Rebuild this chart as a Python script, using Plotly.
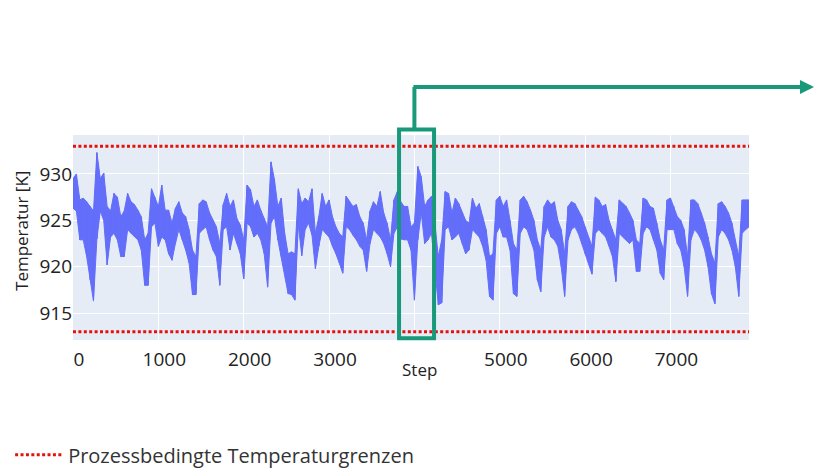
import plotly.graph_objects as go

# ---- data (upper / lower envelope every 40 steps) ----
temp_high = [
    929.5, 930.0, 927.2, 927.4, 927.0, 926.5, 926.0, 932.3, 929.5, 930.1,
    926.5, 926.0, 927.9, 927.5, 925.4, 926.0, 927.9, 927.0, 926.7, 926.1,
    925.4, 922.9, 923.6, 928.4, 927.5, 926.5, 928.8, 926.1, 926.1, 924.7,
    926.3, 927.0, 925.8, 925.4, 924.0, 921.8, 921.1, 926.8, 927.2, 927.0,
    925.8, 925.0, 924.3, 922.5, 926.7, 927.9, 926.5, 927.2, 925.2, 924.5,
    922.9, 928.8, 928.3, 926.5, 927.2, 926.1, 925.2, 924.3, 931.3, 929.4,
    926.5, 927.4, 923.6, 921.4, 921.6, 921.4, 928.4, 926.8, 927.4, 927.0,
    928.4, 923.6, 925.4, 927.9, 926.5, 927.2, 925.4, 924.3, 923.6, 923.2,
    927.6, 927.0, 926.5, 926.7, 925.4, 924.7, 922.9, 926.0, 927.0, 926.5,
    928.1, 925.8, 924.7, 922.9, 927.2, 928.1, 927.0, 926.5, 926.5, 924.3,
    924.7, 930.8, 929.7, 926.5, 927.2, 927.6, 924.7, 921.1, 922.9, 928.1,
    927.9, 925.8, 927.4, 926.8, 925.8, 925.0, 924.7, 927.4, 926.3, 926.8,
    925.4, 924.0, 921.1, 921.4, 927.2, 927.6, 926.5, 927.2, 925.0, 922.5,
    921.8, 927.2, 927.6, 927.0, 926.1, 925.0, 922.9, 921.8, 926.5, 927.2,
    926.7, 927.0, 925.0, 924.0, 921.4, 926.5, 927.0, 926.8, 926.1, 925.4,
    924.3, 923.2, 922.2, 927.5, 927.2, 926.5, 926.7, 925.0, 924.0, 922.9,
    927.2, 926.8, 926.5, 925.8, 925.0, 922.9, 922.5, 927.4, 927.2, 926.5,
    926.3, 924.7, 922.9, 921.8, 927.2, 927.4, 926.5, 925.4, 925.0, 924.0,
    921.1, 927.2, 927.2, 926.8, 925.8, 924.7, 923.2, 921.4, 920.4, 926.8,
    927.0, 926.5, 925.8, 924.7, 922.9, 921.1, 927.2, 927.2, 927.2,
]
temp_low = [
    926.3, 926.0, 922.9, 922.9, 921.1, 918.6, 916.3, 923.0, 926.0, 925.0,
    920.2, 923.2, 923.6, 922.9, 921.1, 921.1, 924.0, 923.6, 923.2, 922.9,
    921.8, 918.0, 918.0, 924.3, 924.7, 922.2, 923.2, 922.9, 921.4, 920.7,
    922.5, 924.0, 922.9, 921.8, 920.4, 917.0, 917.0, 923.6, 924.0, 924.3,
    922.9, 921.8, 921.1, 918.0, 924.0, 924.3, 921.8, 923.6, 922.5, 921.4,
    918.7, 924.7, 924.3, 923.2, 923.6, 922.9, 921.4, 917.8, 924.7, 925.4,
    922.9, 921.1, 919.3, 917.1, 917.0, 916.4, 924.5, 921.2, 924.0, 924.7,
    923.4, 919.8, 922.2, 924.0, 923.6, 923.2, 922.2, 921.4, 920.4, 919.3,
    924.3, 924.0, 923.4, 922.9, 922.2, 921.8, 919.5, 922.5, 924.0, 923.6,
    923.2, 922.5, 921.4, 920.0, 923.6, 924.3, 923.0, 922.9, 922.9, 921.8,
    916.4, 922.9, 925.8, 922.5, 922.9, 923.6, 919.3, 915.9, 916.1, 924.0,
    924.3, 922.9, 923.2, 923.6, 922.5, 921.4, 921.8, 924.0, 923.6, 923.2,
    922.2, 920.7, 916.8, 916.4, 923.6, 924.3, 923.2, 923.2, 921.8, 917.1,
    916.8, 923.6, 924.3, 924.0, 922.9, 921.8, 918.6, 917.3, 923.2, 924.3,
    923.2, 922.9, 922.2, 920.0, 916.8, 922.9, 924.0, 924.3, 923.6, 922.5,
    921.4, 920.4, 919.2, 923.6, 924.0, 923.6, 923.2, 922.2, 921.1, 918.4,
    923.6, 923.2, 922.9, 922.5, 922.9, 919.5, 919.5, 923.6, 924.3, 924.0,
    922.9, 921.8, 919.3, 918.6, 924.0, 924.0, 924.0, 922.5, 921.8, 920.0,
    916.8, 922.9, 924.0, 923.6, 922.9, 921.8, 920.0, 917.1, 916.0, 923.2,
    924.0, 923.6, 922.9, 921.8, 920.0, 916.8, 923.6, 924.0, 924.3,
]
step_interval = 40                      # envelope read every 40 steps
temp_limits = [913.0, 933.0]            # process temperature limits [K]
highlight_steps = [3820, 4230]          # highlighted window
y_tick_vals = [915, 920, 925, 930]
x_tick_vals = [0, 1000, 2000, 3000, 4000, 5000, 6000, 7000]
x_tick_text = ["0", "1000", "2000", "3000", "", "5000", "6000", "7000"]

steps = list(range(0, step_interval * len(temp_high), step_interval))
# dense noisy signal: alternate between the two envelopes
zig_x = [s for s in steps for _ in (0, 1)]
zig_y = [v for pair in zip(temp_high, temp_low) for v in pair]

BLUE = "#636EFA"
GREEN = "#17997a"
TXT = "#222222"

fig = go.Figure()
fig.add_trace(go.Scatter(x=steps, y=temp_low, mode="lines",
                         line=dict(color=BLUE, width=1),
                         showlegend=False, hoverinfo="skip"))
fig.add_trace(go.Scatter(x=steps, y=temp_high, mode="lines",
                         line=dict(color=BLUE, width=1),
                         fill="tonexty", fillcolor=BLUE,
                         showlegend=False, hoverinfo="skip"))
fig.add_trace(go.Scatter(x=zig_x, y=zig_y, mode="lines",
                         line=dict(color=BLUE, width=1),
                         showlegend=False, hoverinfo="skip"))

lim_x, lim_y = [], []
for lim in temp_limits:
    lim_x += [steps[0], steps[-1], None]
    lim_y += [lim, lim, None]
fig.add_trace(go.Scatter(
    x=lim_x, y=lim_y, mode="lines",
    line=dict(color="#e3120b", width=3, dash="3px,2.4px"),
    name="Prozessbedingte Temperaturgrenzen",
))

# highlight box + arrow
fig.add_shape(type="rect", xref="x", yref="paper",
              x0=highlight_steps[0], x1=highlight_steps[1], y0=0.008, y1=1.027,
              line=dict(color=GREEN, width=4), fillcolor="rgba(0,0,0,0)")
arrow_x = (highlight_steps[0] + highlight_steps[1]) / 2 - 25
fig.add_shape(type="line", xref="x", yref="paper",
              x0=arrow_x, x1=arrow_x, y0=1.027, y1=1.234,
              line=dict(color=GREEN, width=4))
fig.add_annotation(xref="paper", yref="paper", x=1.0975, y=1.234,
                   axref="pixel", ayref="pixel", ax=-403, ay=0,
                   showarrow=True, arrowhead=2, arrowsize=0.7, arrowwidth=4,
                   arrowcolor=GREEN, text="")

fig.add_annotation(xref="paper", yref="paper", x=0.513, y=-0.146,
                   text="Step", showarrow=False,
                   font=dict(family="Open Sans", size=17, color=TXT),
                   xanchor="center", yanchor="middle")
fig.add_annotation(xref="paper", yref="paper", x=-0.076, y=0.53,
                   text="Temperatur [K]", showarrow=False, textangle=-90,
                   font=dict(family="Open Sans", size=17, color=TXT),
                   xanchor="center", yanchor="middle")

fig.update_layout(
    width=815, height=469,
    margin=dict(l=73, r=66, t=135, b=129, autoexpand=False),
    paper_bgcolor="white", plot_bgcolor="#E5ECF6",
    font=dict(family="Open Sans", size=19, color=TXT),
    legend=dict(orientation="h", x=-0.093, xanchor="left", y=-0.56, yanchor="middle",
                itemwidth=48,
                font=dict(family="Open Sans", size=20, color="#333333"),
                bgcolor="rgba(0,0,0,0)"),
    xaxis=dict(range=[0, steps[-1]], tickvals=x_tick_vals, ticktext=x_tick_text,
               showgrid=True, gridcolor="white", zeroline=False,
               showline=False, ticks="", ticklabelshift=6, ticklabelstandoff=6),
    yaxis=dict(range=[912.1, 934.2], tickvals=y_tick_vals,
               showgrid=True, gridcolor="white", zeroline=False, ticks=""),
)

fig.write_html("out.html",
               config={"displayModeBar": False},
               post_script="document.body.style.margin='0';"
                           "document.body.style.overflow='hidden';")
